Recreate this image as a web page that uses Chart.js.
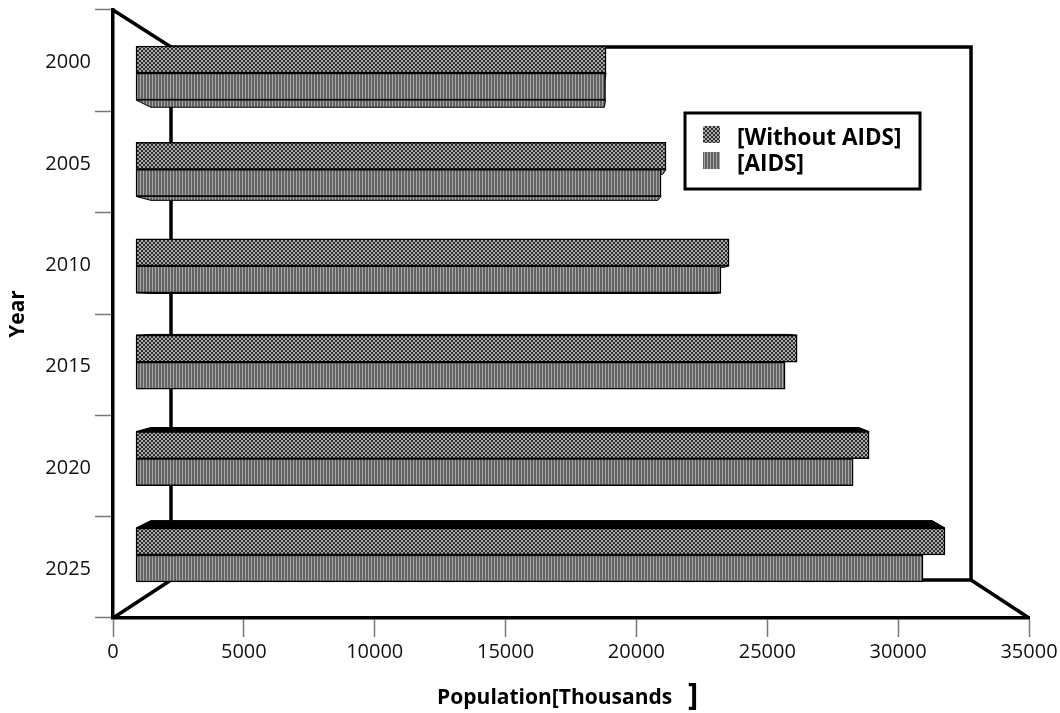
<!DOCTYPE html>
<html>
<head>
<meta charset="utf-8">
<style>
  html, body { margin: 0; background: #fff; }
  #wrap { width: 1060px; height: 713px; }
</style>
<script src="https://cdn.jsdelivr.net/npm/chart.js@4/dist/chart.umd.min.js"></script>
</head>
<body>
<div id="wrap"><canvas id="chart" width="1060" height="713"></canvas></div>
<script>
const years = [2000, 2005, 2010, 2015, 2020, 2025]
const yearLabels = ['2000', '2005', '2010', '2015', '2020', '2025']
const withoutAids = [18840, 21130, 23540, 26140, 28890, 31790]
const withAids = [18820, 20940, 23230, 25680, 28280, 30950]
const barStart = 880

// back wall of the 3d box, in axis units
const wallX = [2216, 32785]
const wallY = [1998.65, 2026.3]
const fontName = '"Open Sans", sans-serif'

function makePattern(rows, colors) {
    const c = document.createElement('canvas')
    c.width = rows[0].length
    c.height = rows.length
    const g = c.getContext('2d')
    rows.forEach((row, y) => {
        for (let x = 0; x < row.length; x++) {
            g.fillStyle = colors[row[x]]
            g.fillRect(x, y, 1, 1)
        }
    })
    return g.createPattern(c, 'repeat')
}

const dotted = makePattern(['0110', '0110', '1001', '1001'], ['#2e2e2e', '#a8a8a8'])
const striped = makePattern(['001'], ['#646464', '#a6a6a6'])

// top and bottom faces of the bars, pulled toward the centre of the box
function drawFaces(chart) {
    const ctx = chart.ctx
    const cx = chart.scales.x.getPixelForValue(17500)
    const cy = chart.scales.yb.getPixelForValue(2012.4)
    const k = 0.034
    const backX = x => x + (cx - x) * k
    const backY = y => y + (cy - y) * k

    chart.data.datasets.forEach((ds, i) => {
        chart.getDatasetMeta(i).data.forEach(bar => {
            const left = bar.base
            const right = bar.x
            const top = bar.y - bar.height / 2
            const bottom = bar.y + bar.height / 2
            ctx.lineWidth = 1
            ctx.strokeStyle = '#000'
            if (top > cy) {
                ctx.fillStyle = '#000'
                ctx.beginPath()
                ctx.moveTo(left, top)
                ctx.lineTo(backX(left), backY(top))
                ctx.lineTo(backX(right), backY(top))
                ctx.lineTo(right, top)
                ctx.closePath()
                ctx.fill()
                ctx.stroke()
            }
            if (bottom < cy) {
                ctx.fillStyle = striped
                ctx.beginPath()
                ctx.moveTo(left, bottom)
                ctx.lineTo(backX(left), backY(bottom))
                ctx.lineTo(backX(right), backY(bottom))
                ctx.lineTo(right, bottom)
                ctx.closePath()
                ctx.fill()
                ctx.stroke()
            }
        })
    })
}

const boxPlugin = {
    id: 'box',
    beforeDatasetsDraw(chart) {
        const ctx = chart.ctx
        const x = chart.scales.x
        const y = chart.scales.yb
        const a = chart.chartArea
        const wl = x.getPixelForValue(wallX[0])
        const wr = x.getPixelForValue(wallX[1])
        const wt = y.getPixelForValue(wallY[0])
        const wb = y.getPixelForValue(wallY[1])

        ctx.save()
        ctx.strokeStyle = '#000'
        ctx.lineWidth = 3.5
        ctx.strokeRect(wl, wt, wr - wl, wb - wt)
        ctx.beginPath()
        ctx.moveTo(a.left, a.top)
        ctx.lineTo(wl, wt)
        ctx.moveTo(a.left, a.bottom)
        ctx.lineTo(wl, wb)
        ctx.moveTo(a.right, a.bottom)
        ctx.lineTo(wr, wb)
        ctx.stroke()
        drawFaces(chart)
        ctx.restore()
    },
    afterDraw(chart) {
        const ctx = chart.ctx
        ctx.save()

        // legend box
        ctx.fillStyle = '#fff'
        ctx.fillRect(685, 113, 235, 76)
        ctx.strokeStyle = '#000'
        ctx.lineWidth = 3
        ctx.strokeRect(685, 113, 235, 76)
        ctx.font = 'bold 22.5px ' + fontName
        ctx.textBaseline = 'middle'
        chart.data.datasets.forEach((ds, i) => {
            const top = 126 + i * 26
            ctx.fillStyle = ds.backgroundColor
            ctx.fillRect(703, top, 17, 17)
            ctx.fillStyle = '#000'
            ctx.fillText(ds.label, 737, top + 13)
        })

        // closing bracket of the axis title sits apart and larger
        ctx.font = 'bold 31px ' + fontName
        ctx.textAlign = 'left'
        ctx.textBaseline = 'middle'
        ctx.fillStyle = '#000'
        ctx.fillText(']', 688, 696)
        ctx.restore()
    }
}

new Chart('chart', {
    type: 'bar',
    data: {
        datasets: [
            {
                label: '[Without AIDS]',
                data: years.map((y, i) => ({ y: y, x: [barStart, withoutAids[i]] })),
                backgroundColor: dotted,
                borderColor: '#000',
                borderWidth: 1.5,
                borderSkipped: false,
                barThickness: 27,
                xAxisID: 'x',
                yAxisID: 'yb'
            },
            {
                label: '[AIDS]',
                data: years.map((y, i) => ({ y: y, x: [barStart, withAids[i]] })),
                backgroundColor: striped,
                borderColor: '#000',
                borderWidth: 1.5,
                borderSkipped: false,
                barThickness: 27,
                xAxisID: 'x',
                yAxisID: 'yb'
            }
        ]
    },
    options: {
        indexAxis: 'y',
        responsive: false,
        animation: false,
        layout: { padding: { top: 10, right: 31, left: 0, bottom: 0 } },
        plugins: {
            legend: { display: false },
            tooltip: { enabled: false }
        },
        scales: {
            x: {
                type: 'linear',
                min: 0,
                max: 35000,
                afterFit: s => { s.height = 95; s.paddingLeft = 0; s.paddingRight = 0 },
                border: { color: '#000', width: 3.5 },
                grid: { drawOnChartArea: false, color: '#777', tickLength: 19, tickWidth: 1.5 },
                ticks: {
                    stepSize: 5000,
                    maxRotation: 0,
                    padding: 3,
                    color: '#111',
                    font: { family: fontName, size: 20 },
                    format: { useGrouping: false }
                },
                title: {
                    display: true,
                    text: 'Population[Thousands      ',
                    color: '#000',
                    padding: { top: 14, bottom: 2 },
                    font: { family: fontName, size: 21, weight: 'bold' }
                }
            },
            y: {
                type: 'category',
                labels: yearLabels,
                offset: true,
                afterFit: s => { s.width = 113; s.paddingTop = 0; s.paddingBottom = 0 },
                border: { color: '#000', width: 3.5 },
                grid: { offset: true, drawOnChartArea: false, color: '#777', tickLength: 18, tickWidth: 1.5 },
                ticks: {
                    padding: 4,
                    labelOffset: 2,
                    color: '#111',
                    font: { family: fontName, size: 20 }
                },
                title: {
                    display: true,
                    text: 'Year',
                    color: '#000',
                    padding: { top: 5, bottom: 0 },
                    font: { family: fontName, size: 21, weight: 'bold' }
                }
            },
            yb: {
                type: 'linear',
                display: false,
                reverse: true,
                offset: false,
                min: 1996.73,
                max: 2028.27
            }
        }
    },
    plugins: [boxPlugin]
})
</script>
</body>
</html>
